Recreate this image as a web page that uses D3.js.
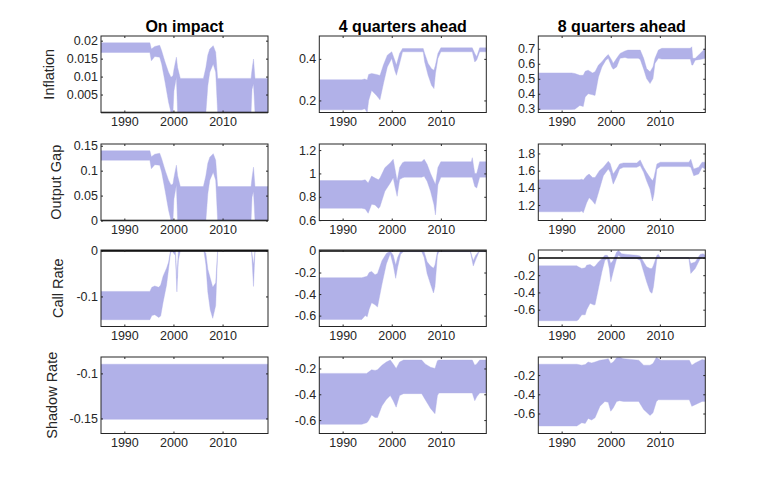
<!DOCTYPE html>
<html>
<head>
<meta charset="utf-8">
<script src="https://cdn.jsdelivr.net/npm/d3@7"></script>
<style>
  body { margin: 0; background: #fff; }
  svg { display: block; }
</style>
</head>
<body>
<div id="chart"></div>
<script>
// row / column labels
const variables = ["Inflation", "Output Gap", "Call Rate", "Shadow Rate"];
const horizons = ["On impact", "4 quarters ahead", "8 quarters ahead"];
const yearTicks = [1990, 2000, 2010];
const yearRange = [1985.25, 2019.25];

// bands: [year, lower, upper]
const inflImpact = [
  [1985.25, 0.0167, 0.0194], [1995.2, 0.0167, 0.0194], [1995.5, 0.0144, 0.0177],
  [1996.2, 0.0156, 0.0184], [1997.2, 0.0154, 0.0187], [1997.6, 0.0135, 0.0172],
  [1998.3, 0.0084, 0.014], [1999.0, 0.0029, 0.0112], [1999.5, 0, 0.0098],
  [1999.9, 0, 0.0102], [2000.1, 0.006, 0.012], [2000.6, 0.0098, 0.0154],
  [2000.85, 0, 0.0125], [2001.4, 0, 0.0095], [2006.1, 0, 0.0095],
  [2006.6, 0, 0.0125], [2007.0, 0.0075, 0.016], [2007.4, 0.0112, 0.0177],
  [2008.1, 0.0135, 0.0186], [2008.6, 0.0112, 0.0168], [2009.0, 0, 0.0095],
  [2015.8, 0, 0.0095], [2016.0, 0.0065, 0.012], [2016.3, 0.008, 0.0149],
  [2016.6, 0, 0.0095], [2019.25, 0, 0.0095]
];
const infl4q = [
  [1985.25, 0.155, 0.3], [1993.9, 0.155, 0.3], [1994.5, 0.16, 0.303],
  [1995.0, 0.143, 0.298], [1995.3, 0.2, 0.325], [1995.9, 0.248, 0.33],
  [1996.9, 0.224, 0.325], [1997.6, 0.203, 0.32], [1998.3, 0.28, 0.37],
  [1999.1, 0.361, 0.418], [2000.0, 0.402, 0.434], [2000.6, 0.345, 0.394],
  [2000.95, 0.321, 0.37], [2001.6, 0.378, 0.426], [2002.2, 0.434, 0.45],
  [2006.4, 0.434, 0.45], [2006.7, 0.385, 0.426], [2007.4, 0.321, 0.378],
  [2008.1, 0.273, 0.353], [2008.6, 0.257, 0.345], [2008.9, 0.33, 0.37],
  [2009.4, 0.402, 0.426], [2010.0, 0.434, 0.453], [2016.4, 0.434, 0.453],
  [2016.9, 0.385, 0.426], [2017.3, 0.395, 0.41], [2017.9, 0.434, 0.453],
  [2019.25, 0.434, 0.453]
];
const infl8q = [
  [1985.25, 0.295, 0.539], [1992.0, 0.295, 0.539], [1992.7, 0.297, 0.535],
  [1993.7, 0.322, 0.523], [1994.4, 0.315, 0.523], [1994.8, 0.378, 0.55],
  [1995.4, 0.4, 0.557], [1996.3, 0.393, 0.539], [1996.8, 0.389, 0.546],
  [1997.5, 0.512, 0.591], [1998.2, 0.579, 0.613], [1999.0, 0.624, 0.646],
  [1999.5, 0.636, 0.662], [2000.2, 0.579, 0.624], [2000.5, 0.564, 0.602],
  [2001.2, 0.579, 0.636], [2001.9, 0.636, 0.669], [2002.9, 0.642, 0.685],
  [2003.5, 0.636, 0.691], [2005.6, 0.636, 0.691], [2006.0, 0.629, 0.691],
  [2006.7, 0.564, 0.636], [2007.3, 0.501, 0.568], [2008.0, 0.468, 0.546],
  [2008.6, 0.501, 0.579], [2009.0, 0.602, 0.636], [2009.7, 0.636, 0.691],
  [2010.4, 0.631, 0.703], [2016.2, 0.631, 0.703], [2016.5, 0.591, 0.713],
  [2016.7, 0.591, 0.636], [2017.2, 0.624, 0.636], [2018.2, 0.629, 0.669],
  [2019.25, 0.636, 0.703]
];
const gapImpact = [
  [1985.25, 0.121, 0.14], [1995.2, 0.121, 0.14], [1995.5, 0.104, 0.128],
  [1996.2, 0.112, 0.133], [1997.2, 0.111, 0.135], [1997.6, 0.097, 0.124],
  [1998.3, 0.06, 0.101], [1999.0, 0.021, 0.081], [1999.5, 0, 0.071],
  [1999.9, 0, 0.073], [2000.1, 0.043, 0.086], [2000.6, 0.071, 0.111],
  [2000.85, 0, 0.09], [2001.4, 0, 0.068], [2006.1, 0, 0.068],
  [2006.6, 0, 0.09], [2007.0, 0.054, 0.115], [2007.4, 0.081, 0.127],
  [2008.1, 0.097, 0.134], [2008.6, 0.081, 0.121], [2009.0, 0, 0.068],
  [2015.8, 0, 0.068], [2016.0, 0.047, 0.086], [2016.3, 0.058, 0.107],
  [2016.6, 0, 0.068], [2019.25, 0, 0.068]
];
const gap4q = [
  [1985.25, 0.702, 0.939], [1993.9, 0.702, 0.939], [1994.6, 0.695, 0.945],
  [1995.2, 0.659, 0.919], [1995.9, 0.737, 0.977], [1996.6, 0.73, 0.96],
  [1997.3, 0.7, 0.945], [1997.6, 0.715, 0.96], [1998.6, 0.847, 1.049],
  [1999.7, 0.919, 1.092], [2000.3, 0.962, 1.121], [2000.7, 0.88, 1.03],
  [2001.1, 0.804, 0.933], [2001.6, 0.948, 1.05], [2002.2, 0.962, 1.092],
  [2002.6, 0.968, 1.1], [2006.1, 0.968, 1.1], [2006.6, 0.975, 1.121],
  [2007.2, 0.934, 1.078], [2007.9, 0.847, 1.0], [2008.6, 0.731, 0.933],
  [2008.9, 0.645, 0.905], [2009.4, 0.904, 1.05], [2010.0, 0.968, 1.1],
  [2016.2, 0.968, 1.1], [2016.4, 0.968, 1.135], [2016.9, 0.889, 1.0],
  [2017.3, 0.875, 1.0], [2017.9, 0.968, 1.1], [2019.25, 0.968, 1.1]
];
const gap8q = [
  [1985.25, 1.121, 1.494], [1993.7, 1.121, 1.494], [1994.1, 1.13, 1.5],
  [1994.4, 1.11, 1.49], [1995.1, 1.227, 1.541], [1995.6, 1.286, 1.56],
  [1996.3, 1.247, 1.52], [1996.8, 1.208, 1.52], [1997.7, 1.384, 1.6],
  [1998.5, 1.541, 1.639], [1999.5, 1.62, 1.71], [1999.9, 1.58, 1.68],
  [2000.5, 1.443, 1.561], [2001.2, 1.53, 1.62], [2001.8, 1.62, 1.678],
  [2002.6, 1.639, 1.69], [2005.3, 1.639, 1.69], [2006.0, 1.659, 1.725],
  [2006.7, 1.58, 1.639], [2007.3, 1.482, 1.58], [2008.0, 1.384, 1.52],
  [2008.5, 1.247, 1.482], [2008.8, 1.325, 1.52], [2009.4, 1.62, 1.678],
  [2010.1, 1.647, 1.698], [2015.9, 1.647, 1.698], [2016.3, 1.64, 1.733],
  [2016.9, 1.541, 1.62], [2017.9, 1.561, 1.639], [2018.6, 1.639, 1.698],
  [2019.25, 1.62, 1.698]
];
const callImpact = [
  [1985.25, -0.151, -0.089], [1995.2, -0.151, -0.089], [1995.6, -0.142, -0.08],
  [1996.2, -0.14, -0.077], [1997.0, -0.146, -0.08], [1997.4, -0.143, -0.075],
  [1997.9, -0.112, -0.055], [1998.6, -0.075, -0.038], [1999.0, -0.04, -0.025],
  [1999.4, -0.005, 0], [1999.7, 0, 0], [2000.4, -0.01, 0],
  [2000.7, -0.09, -0.06], [2001.0, -0.02, 0], [2001.4, 0, 0],
  [2006.2, 0, 0], [2006.6, -0.03, -0.005], [2007.0, -0.09, -0.04],
  [2007.5, -0.13, -0.06], [2008.0, -0.148, -0.08], [2008.6, -0.12, -0.07],
  [2009.0, 0, 0], [2015.9, 0, 0], [2016.3, -0.078, -0.03],
  [2016.6, 0, 0], [2019.25, 0, 0]
];
const call4q = [
  [1985.25, -0.636, -0.248], [1993.9, -0.636, -0.248], [1994.6, -0.6, -0.24],
  [1995.0, -0.61, -0.235], [1995.4, -0.54, -0.2], [1995.9, -0.48, -0.19],
  [1996.6, -0.5, -0.22], [1997.1, -0.52, -0.21], [1998.0, -0.31, -0.09],
  [1998.9, -0.12, -0.024], [1999.7, -0.024, 0], [2000.3, -0.13, -0.04],
  [2000.8, -0.254, -0.13], [2001.2, -0.15, -0.06], [2001.8, -0.03, 0],
  [2002.4, -0.006, 0], [2006.1, -0.006, 0], [2006.6, -0.06, -0.01],
  [2007.2, -0.21, -0.1], [2007.9, -0.31, -0.14], [2008.5, -0.39, -0.16],
  [2008.8, -0.33, -0.13], [2009.3, -0.04, -0.005], [2009.6, -0.006, 0],
  [2016.0, -0.006, 0], [2016.6, -0.14, -0.09], [2017.1, -0.08, -0.04],
  [2017.8, -0.006, 0], [2019.25, -0.006, 0]
];
const call8q = [
  [1985.25, -0.728, -0.092], [1993.1, -0.728, -0.092], [1993.4, -0.716, -0.103],
  [1994.1, -0.659, -0.122], [1994.8, -0.659, -0.115], [1995.1, -0.601, -0.084],
  [1995.8, -0.525, -0.077], [1996.5, -0.544, -0.103], [1996.8, -0.544, -0.096],
  [1997.5, -0.352, -0.046], [1998.2, -0.161, -0.008], [1998.8, -0.027, 0.03],
  [1999.3, -0.008, 0.03], [1999.7, -0.122, -0.008], [2000.0, -0.276, -0.065],
  [2000.5, -0.161, -0.027], [2001.2, -0.008, 0.068], [2001.6, 0.03, 0.087],
  [2002.2, 0, 0.049], [2003.3, -0.008, 0.041], [2005.3, -0.008, 0.03],
  [2006.0, -0.027, 0.022], [2006.7, -0.161, -0.046], [2007.3, -0.276, -0.103],
  [2008.0, -0.391, -0.122], [2008.4, -0.41, -0.122], [2008.7, -0.333, -0.084],
  [2009.4, -0.008, 0.03], [2009.7, 0, 0.041], [2010.1, -0.005, 0.005],
  [2015.9, -0.005, 0.005], [2016.3, -0.18, -0.065], [2017.2, -0.122, -0.046],
  [2018.2, -0.008, 0.041], [2018.8, 0.011, 0.049], [2019.25, -0.008, 0.03]
];
const shadowImpact = [
  [1985.25, -0.151, -0.0898], [2019.25, -0.151, -0.0898]
];
const shadow4q = [
  [1985.25, -0.633, -0.238], [1993.9, -0.633, -0.238], [1994.9, -0.62, -0.238],
  [1995.2, -0.61, -0.23], [1995.9, -0.56, -0.21], [1996.6, -0.58, -0.215],
  [1997.1, -0.58, -0.21], [1998.0, -0.49, -0.175], [1998.9, -0.44, -0.15],
  [1999.7, -0.41, -0.135], [2000.3, -0.45, -0.165], [2000.9, -0.5, -0.2],
  [2001.6, -0.41, -0.15], [2002.4, -0.395, -0.135], [2006.1, -0.395, -0.135],
  [2006.8, -0.44, -0.165], [2007.9, -0.51, -0.19], [2008.8, -0.55, -0.2],
  [2009.3, -0.41, -0.14], [2009.6, -0.39, -0.135], [2016.4, -0.39, -0.135],
  [2016.9, -0.45, -0.175], [2017.3, -0.42, -0.165], [2017.9, -0.39, -0.135],
  [2019.25, -0.39, -0.135]
];
const shadow8q = [
  [1985.25, -0.73, -0.087], [1993.1, -0.73, -0.087], [1994.1, -0.696, -0.097],
  [1994.8, -0.703, -0.09], [1995.4, -0.651, -0.064], [1996.1, -0.668, -0.074],
  [1996.8, -0.644, -0.064], [1997.8, -0.525, -0.046], [1998.8, -0.474, -0.039],
  [1999.5, -0.484, -0.029], [2000.0, -0.576, -0.08], [2000.5, -0.542, -0.064],
  [2001.2, -0.474, -0.019], [2001.8, -0.467, -0.014], [2002.6, -0.474, -0.029],
  [2005.7, -0.474, -0.046], [2006.7, -0.559, -0.097], [2008.0, -0.62, -0.097],
  [2008.6, -0.593, -0.08], [2009.3, -0.474, -0.014], [2009.7, -0.457, -0.029],
  [2010.2, -0.457, -0.046], [2016.0, -0.457, -0.046], [2016.5, -0.525, -0.097],
  [2017.2, -0.508, -0.074], [2018.6, -0.474, -0.039], [2019.25, -0.474, -0.046]
];

// y axis limits and ticks for each panel (row by row)
const yDomains = [
  [[0, 0.0213], [0.142, 0.51], [0.275, 0.785]],
  [[0, 0.1535], [0.597, 1.252], [1.02, 1.91]],
  [[-0.166, 0.002], [-0.701, 0.009], [-0.795, 0.092]],
  [[-0.1667, -0.0818], [-0.704, -0.111], [-0.808, -0.012]]
];
const yTicks = [
  [[0.005, 0.01, 0.015, 0.02], [0.2, 0.4], [0.3, 0.4, 0.5, 0.6, 0.7]],
  [[0, 0.05, 0.1, 0.15], [0.6, 0.8, 1, 1.2], [1.2, 1.4, 1.6, 1.8]],
  [[-0.1, 0], [-0.6, -0.4, -0.2, 0], [-0.6, -0.4, -0.2, 0]],
  [[-0.15, -0.1], [-0.6, -0.4, -0.2], [-0.6, -0.4, -0.2]]
];
const bands = [
  [inflImpact, infl4q, infl8q],
  [gapImpact, gap4q, gap8q],
  [callImpact, call4q, call8q],
  [shadowImpact, shadow4q, shadow8q]
];

// layout
const width = 779;
const height = 488;
const colLeft = [101, 319.3, 538.3];
const rowTop = [36, 144, 250, 357];
const panelW = 167;
const panelH = 76.5;
const font = "'Liberation Sans', Arial, Helvetica, sans-serif";
const axisColor = "#262626";
const fillColor = "#b1b1e8";

const svg = d3
  .select("#chart")
  .append("svg")
  .attr("width", width)
  .attr("height", height)
  .style("font-family", font);

const x = d3.scaleLinear().domain(yearRange).range([0, panelW]);

bands.forEach((rowBands, r) => {
  rowBands.forEach((data, c) => {
    const g = svg
      .append("g")
      .attr("transform", `translate(${colLeft[c]},${rowTop[r]})`);
    const y = d3.scaleLinear().domain(yDomains[r][c]).range([panelH, 0]);

    const clipId = `clip-${r}-${c}`;
    g.append("clipPath")
      .attr("id", clipId)
      .append("rect")
      .attr("width", panelW)
      .attr("height", panelH);

    // the shaded band
    const area = d3
      .area()
      .x((d) => x(d[0]))
      .y0((d) => y(d[1]))
      .y1((d) => y(d[2]));
    g.append("path")
      .datum(data)
      .attr("clip-path", `url(#${clipId})`)
      .attr("fill", fillColor)
      .attr("stroke", fillColor)
      .attr("stroke-width", 0.4)
      .attr("d", area);

    // zero line when 0 is inside the limits
    const [lo, hi] = yDomains[r][c];
    if (lo <= 0 && hi >= 0) {
      g.append("line")
        .attr("x1", 0)
        .attr("x2", panelW)
        .attr("y1", y(0))
        .attr("y2", y(0))
        .attr("stroke", "#000")
        .attr("stroke-width", 1.6);
    }

    // axes, ticks pointing inwards like matlab
    const styleAxis = (sel) => {
      sel.select(".domain").remove();
      sel.selectAll(".tick line").attr("stroke", axisColor);
      sel.selectAll("text")
        .attr("fill", axisColor)
        .style("font-size", "12.5px")
        .style("font-family", font);
      sel.attr("font-family", null).attr("font-size", null);
    };
    g.append("g")
      .attr("transform", `translate(0,${panelH})`)
      .call(d3.axisBottom(x).tickValues(yearTicks).tickFormat(d3.format("d"))
        .tickSizeInner(-2).tickSizeOuter(0).tickPadding(5))
      .call(styleAxis);
    g.append("g")
      .call(d3.axisTop(x).tickValues(yearTicks).tickFormat("")
        .tickSizeInner(-2).tickSizeOuter(0))
      .call(styleAxis);
    const yAxis = g.append("g")
      .call(d3.axisLeft(y).tickValues(yTicks[r][c]).tickFormat((v) => String(v))
        .tickSizeInner(-2).tickSizeOuter(0).tickPadding(3))
      .call(styleAxis);
    g.append("g")
      .attr("transform", `translate(${panelW},0)`)
      .call(d3.axisRight(y).tickValues(yTicks[r][c]).tickFormat("")
        .tickSizeInner(-2).tickSizeOuter(0))
      .call(styleAxis);

    g.append("rect")
      .attr("width", panelW)
      .attr("height", panelH)
      .attr("fill", "none")
      .attr("stroke", axisColor)
      .attr("stroke-width", 1);

    // column titles
    if (r === 0) {
      g.append("text")
        .attr("x", panelW / 2)
        .attr("y", -4)
        .attr("text-anchor", "middle")
        .attr("font-weight", "bold")
        .attr("font-size", 16)
        .attr("fill", "#000")
        .text(horizons[c]);
    }

    // row labels, placed left of the widest tick label
    if (c === 0) {
      let tickW = 0;
      yAxis.selectAll("text").each(function () {
        tickW = Math.max(tickW, this.getComputedTextLength());
      });
      const lx = -3 - tickW - 13;
      g.append("text")
        .attr("transform", `translate(${lx},${panelH / 2}) rotate(-90)`)
        .attr("text-anchor", "middle")
        .attr("font-size", 14.5)
        .attr("fill", axisColor)
        .text(variables[r]);
    }
  });
});
</script>
</body>
</html>
